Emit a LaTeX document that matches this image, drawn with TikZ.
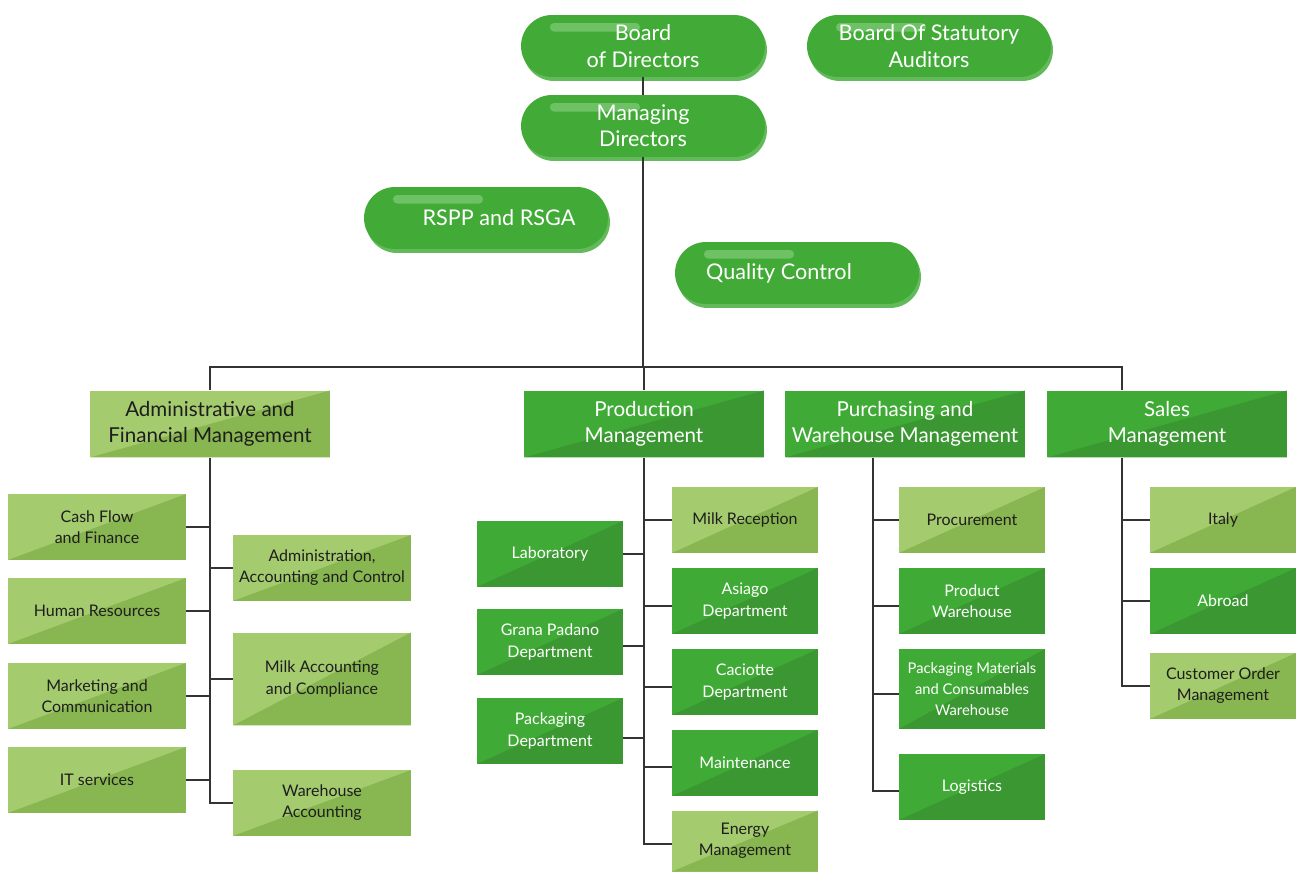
\documentclass[tikz,border=0pt]{standalone}
\usepackage{fontspec}
\setmainfont{Lato}
\usetikzlibrary{positioning,calc}
\definecolor{pillgreen}{HTML}{42AB38}
\definecolor{pillshade}{HTML}{63BA5A}
\definecolor{pillhi}{HTML}{6EC165}
\definecolor{darktop}{HTML}{40AA36}
\definecolor{darkbot}{HTML}{3A9731}
\definecolor{lighttop}{HTML}{A5CB6F}
\definecolor{lightbot}{HTML}{88B650}
\definecolor{inkdark}{HTML}{1E1E1E}
\definecolor{linkgray}{HTML}{333333}

\begin{document}
\begin{tikzpicture}[
      x=0.02cm, y=-0.02cm,
      pill/.style={rectangle, rounded corners=0.62cm, minimum width=4.88cm, minimum height=1.24cm,
        fill=pillgreen, text=white, align=center, inner sep=1pt,
        font=\fontsize{12.3}{15}\selectfont,
        preaction={fill=pillshade, transform canvas={xshift=0.04cm, yshift=-0.08cm}},
        path picture={\fill[pillhi, rounded corners=0.08cm]
          ([xshift=0.58cm, yshift=-0.16cm]path picture bounding box.north west) rectangle ++(1.8cm,-0.17cm);}},
      twotone/.style={rectangle, inner sep=1pt, align=center,
        path picture={\fill[#1] (path picture bounding box.south west) -- (path picture bounding box.north east)
          -- (path picture bounding box.south east) -- cycle;}},
      dark/.style={twotone=darkbot, fill=darktop, text=white},
      light/.style={twotone=lightbot, fill=lighttop, text=inkdark},
      head/.style={minimum width=4.8cm, minimum height=1.34cm, font=\fontsize{11.7}{14.7}\selectfont},
      unitA/.style={minimum width=3.56cm, minimum height=1.32cm, font=\fontsize{9.1}{12}\selectfont},
      unitB/.style={minimum width=2.92cm, minimum height=1.32cm, font=\fontsize{9.1}{12}\selectfont},
      link/.style={draw=linkgray, line width=0.8pt}
    ]
    \useasboundingbox (0,0) rectangle (1296,872);

    % ---- top: governing bodies ----
    \node[pill] (board) at (643,46) {Board\\of Directors};
    \node[pill] (auditors) at (929,46) {Board Of Statutory\\Auditors};
    \node[pill] (mgr) at (643,126) {Managing\\Directors};
    \node[pill] (rspp) at (486,218) {\hspace*{5.2mm}RSPP and RSGA};
    \node[pill] (quality) at (797,273) {Quality Control\hspace*{7.2mm}};

    % ---- management level ----
    \node[light, head] (admin) at (210,424) {Administrative and\\Financial Management};
    \node[dark, head] (prod) at (644,424) {Production\\Management};
    \node[dark, head] (purch) at (905,424) {Purchasing and\\Warehouse Management};
    \node[dark, head] (sales) at (1167,424) {Sales\\Management};

    % ---- administrative units ----
    \node[light, unitA] (cash) at (97,527) {Cash Flow\\and Finance};
    \node[light, unitA] (hr) at (97,611) {Human Resources};
    \node[light, unitA] (mkt) at (97,696) {Marketing and\\Communication};
    \node[light, unitA] (its) at (97,780) {IT services};
    \node[light, unitA] (acc) at (322,568) {Administration,\\Accounting and Control};
    \node[light, unitA, minimum height=1.86cm] (milkacc) at (322,679) {Milk Accounting\\and Compliance};
    \node[light, unitA] (whacc) at (322,803) {Warehouse\\Accounting};

    % ---- production units ----
    \node[dark, unitB] (lab) at (550,554) {Laboratory};
    \node[dark, unitB] (grana) at (550,642) {Grana Padano\\Department};
    \node[dark, unitB] (pack) at (550,731) {Packaging\\Department};
    \node[light, unitB] (milkrec) at (745,520) {Milk Reception};
    \node[dark, unitB] (asiago) at (745,601) {Asiago\\Department};
    \node[dark, unitB] (caciotte) at (745,682) {Caciotte\\Department};
    \node[dark, unitB] (maint) at (745,763) {Maintenance};
    \node[light, unitB, minimum height=1.22cm] (energy) at (745,841) {Energy\\Management};

    % ---- purchasing units ----
    \node[light, unitB] (procure) at (972,520) {Procurement};
    \node[dark, unitB] (prodwh) at (972,601) {Product\\Warehouse};
    \node[dark, unitB, minimum height=1.6cm, font=\fontsize{8.4}{12}\selectfont] (pkgwh) at (972,689)
      {Packaging Materials\\and Consumables\\Warehouse};
    \node[dark, unitB] (logi) at (972,787) {Logistics};

    % ---- sales units ----
    \node[light, unitB] (italy) at (1223,520) {Italy};
    \node[dark, unitB] (abroad) at (1223,601) {Abroad};
    \node[light, unitB] (custord) at (1223,686) {Customer Order\\Management};

    % ---- connectors ----
    \coordinate (bus) at (643,367);
    \draw[link] (board.south) -- (mgr.north);
    \draw[link] (mgr.south) -- (bus);
    \draw[link] (admin.north) |- (bus);
    \draw[link] (prod.north) -- (prod.north |- bus);
    \draw[link] ([xshift=-0.9cm]sales.north) |- (bus);

    \foreach \u in {cash,hr,mkt,its}
      \draw[link] (admin.south) |- (\u.east);
    \foreach \u in {acc,milkacc,whacc}
      \draw[link] (admin.south) |- (\u.west);

    \draw[link] (prod.south) |- (lab.east);
    \draw[link] (prod.south) |- ([yshift=-0.08cm]grana.east);
    \draw[link] (prod.south) |- ([yshift=-0.14cm]pack.east);
    \draw[link] (prod.south) |- (milkrec.west);
    \draw[link] (prod.south) |- ([yshift=-0.1cm]asiago.west);
    \draw[link] (prod.south) |- ([yshift=-0.1cm]caciotte.west);
    \draw[link] (prod.south) |- ([yshift=-0.08cm]maint.west);
    \draw[link] (prod.south) |- ([yshift=-0.06cm]energy.west);

    \draw[link] ([xshift=-0.64cm]purch.south) |- (procure.west);
    \draw[link] ([xshift=-0.64cm]purch.south) |- ([yshift=-0.1cm]prodwh.west);
    \draw[link] ([xshift=-0.64cm]purch.south) |- ([yshift=-0.1cm]pkgwh.west);
    \draw[link] ([xshift=-0.64cm]purch.south) |- ([yshift=-0.08cm]logi.west);

    \foreach \u in {italy,abroad,custord}
      \draw[link] ([xshift=-0.9cm]sales.south) |- (\u.west);
  \end{tikzpicture}
\end{document}
